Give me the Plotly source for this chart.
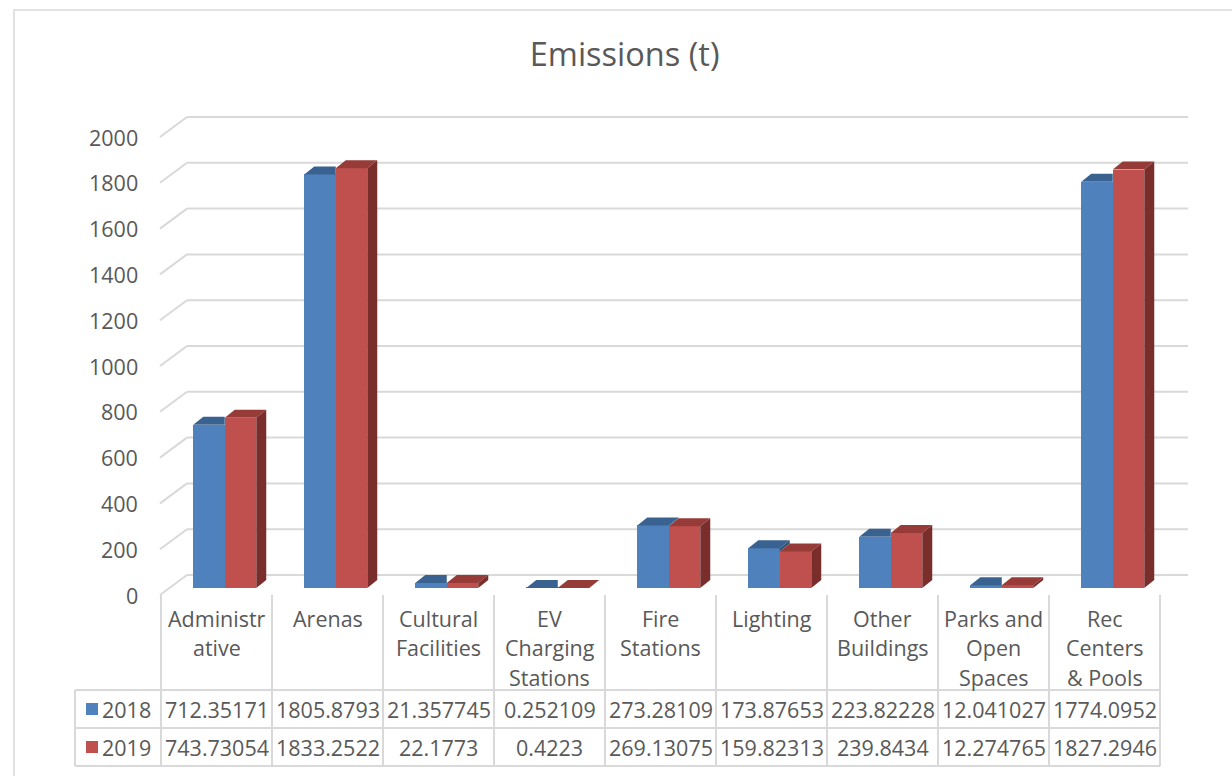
import plotly.graph_objects as go

# ---- data -------------------------------------------------------------
categories = ["Administrative", "Arenas", "Cultural Facilities", "EV Charging Stations",
              "Fire Stations", "Lighting", "Other Buildings", "Parks and Open Spaces",
              "Rec Centers & Pools"]
category_lines = [["Administr", "ative"], ["Arenas"], ["Cultural", "Facilities"],
                  ["EV", "Charging", "Stations"], ["Fire", "Stations"], ["Lighting"],
                  ["Other", "Buildings"], ["Parks and", "Open", "Spaces"],
                  ["Rec", "Centers", "& Pools"]]
series_names = ["2018", "2019"]
emissions_2018 = [712.35171, 1805.8793, 21.357745, 0.252109, 273.28109,
                  173.87653, 223.82228, 12.041027, 1774.0952]
emissions_2019 = [743.73054, 1833.2522, 22.1773, 0.4223, 269.13075,
                  159.82313, 239.8434, 12.274765, 1827.2946]
y_ticks = [0, 200, 400, 600, 800, 1000, 1200, 1400, 1600, 1800, 2000]
title_text = "Emissions (t)"

# ---- canvas / projection ----------------------------------------------
W, H = 1232, 776
COL_W = 111.0          # pixels per category column
COL0 = 216.5           # pixel centre of the first column
PPU = 0.229            # pixels per emission unit
BASE = 588.0           # pixel row of the bar bases

def X(px):
    return (px - COL0) / COL_W

def Y(py):
    return (BASE - py) / PPU

# oblique depth of one bar and of the whole floor
BAR_DX, BAR_DY = 10 / COL_W, 8 / PPU
FRONT_DY = -7 / PPU            # front edge of floor relative to bar base
BACK_DY = 13 / PPU             # back wall relative to bar base
WALL_X0, WALL_X1, WALL_END = X(160), X(187), X(1188)

BAR_W = 31.5 / COL_W
OFFSETS = [-7.5 / COL_W, 24.0 / COL_W]

FRONT = ["#4F81BD", "#C0504D"]
TOP = ["#3A6291", "#973B38"]
SIDE = ["#2F5078", "#7A2E2C"]
GRID = "#D9D9D9"
TXT = "#595959"
FONT = "Open Sans"
FS = 21.5

fig = go.Figure()
shapes = []
annotations = []

def label(x, y, text, xref, yref, xanchor="center", size=FS):
    annotations.append(dict(x=x, y=y, xref=xref, yref=yref, text=text,
                            showarrow=False, xanchor=xanchor, yanchor="middle",
                            font=dict(family=FONT, size=size, color=TXT)))

# back wall gridlines and left wall diagonals
for v in y_ticks:
    shapes.append(dict(type="line", xref="x", yref="y", layer="below",
                       x0=WALL_X1, x1=WALL_END, y0=v + BACK_DY, y1=v + BACK_DY,
                       line=dict(color=GRID, width=2)))
    shapes.append(dict(type="line", xref="x", yref="y", layer="below",
                       x0=WALL_X0, x1=WALL_X1, y0=v + FRONT_DY, y1=v + BACK_DY,
                       line=dict(color=GRID, width=2)))
    label(X(140), v + FRONT_DY, str(v), "x", "y", xanchor="right")

# front faces
series = [emissions_2018, emissions_2019]
for s, vals in enumerate(series):
    fig.add_trace(go.Bar(
        x=[i + OFFSETS[s] for i in range(len(categories))], y=vals,
        width=BAR_W, marker=dict(color=FRONT[s], line=dict(width=0)),
        name=series_names[s], hoverinfo="y+name", showlegend=False))

# tops and sides
def poly(xs, ys, color):
    fig.add_trace(go.Scatter(x=xs + [xs[0]], y=ys + [ys[0]], mode="lines",
                             fill="toself", fillcolor=color,
                             line=dict(width=0, color=color),
                             hoverinfo="skip", showlegend=False))

for i in range(len(categories)):
    hb, hr = emissions_2018[i], emissions_2019[i]
    xl = i + OFFSETS[0] - BAR_W / 2
    xr = xl + BAR_W
    # 2018 side, only the part standing above the 2019 front face
    lo = min(hb, hr)
    if hb > hr:
        poly([xr, xr, xr + BAR_DX, xr + BAR_DX],
             [lo, hb, hb + BAR_DY, lo + BAR_DY], SIDE[0])
        poly([xl, xr, xr + BAR_DX, xl + BAR_DX],
             [hb, hb, hb + BAR_DY, hb + BAR_DY], TOP[0])
    else:
        poly([xl, xr, xr, xl + BAR_DX],
             [hb, hb, hb + BAR_DY, hb + BAR_DY], TOP[0])
    rl = i + OFFSETS[1] - BAR_W / 2
    rr = rl + BAR_W
    poly([rl, rr, rr + BAR_DX, rl + BAR_DX],
         [hr, hr, hr + BAR_DY, hr + BAR_DY], TOP[1])
    poly([rr, rr, rr + BAR_DX, rr + BAR_DX],
         [0, hr, hr + BAR_DY, BAR_DY], SIDE[1])

# ---- data table -------------------------------------------------------
def px(x):
    return x / W

def py(y):
    return 1 - y / H

n = len(categories)
col_edges = [161 + COL_W * k for k in range(n + 1)]
for e in col_edges:
    shapes.append(dict(type="line", xref="paper", yref="paper",
                       x0=px(e), x1=px(e), y0=py(595), y1=py(766),
                       line=dict(color=GRID, width=2)))
for ry in (690, 728, 766):
    shapes.append(dict(type="line", xref="paper", yref="paper",
                       x0=px(75), x1=px(col_edges[-1]), y0=py(ry), y1=py(ry),
                       line=dict(color=GRID, width=2)))
shapes.append(dict(type="line", xref="paper", yref="paper",
                   x0=px(75), x1=px(75), y0=py(690), y1=py(766),
                   line=dict(color=GRID, width=2)))

for i, lines in enumerate(category_lines):
    for k, t in enumerate(lines):
        label(i, py(618 + 29.5 * k), t, "x", "paper")

row_y = [709, 747]
for s, vals in enumerate(series):
    for i, v in enumerate(vals):
        label(i, py(row_y[s]), format(v, ".10g"), "x", "paper")
    shapes.append(dict(type="rect", xref="paper", yref="paper",
                       x0=px(86), x1=px(98), y0=py(row_y[s] + 6), y1=py(row_y[s] - 6),
                       fillcolor=FRONT[s], line=dict(width=0)))
    label(px(126), py(row_y[s]), series_names[s], "paper", "paper")

# chart area border
shapes.append(dict(type="rect", xref="paper", yref="paper",
                   x0=px(14), x1=px(W + 5), y0=py(H + 5), y1=py(10),
                   line=dict(color=GRID, width=1.5), layer="below"))

fig.update_layout(
    width=W, height=H, autosize=False,
    margin=dict(l=0, r=0, t=0, b=0),
    paper_bgcolor="white", plot_bgcolor="white",
    title=dict(text=title_text, x=0.507, xanchor="center", y=1 - 55 / H,
               yanchor="middle", font=dict(family=FONT, size=32.5, color=TXT)),
    xaxis=dict(range=[X(0), X(W)], visible=False, fixedrange=True),
    yaxis=dict(range=[Y(H), Y(0)], visible=False, fixedrange=True),
    barmode="overlay", bargap=0,
    shapes=shapes, annotations=annotations,
)

fig.write_html("out.html")
